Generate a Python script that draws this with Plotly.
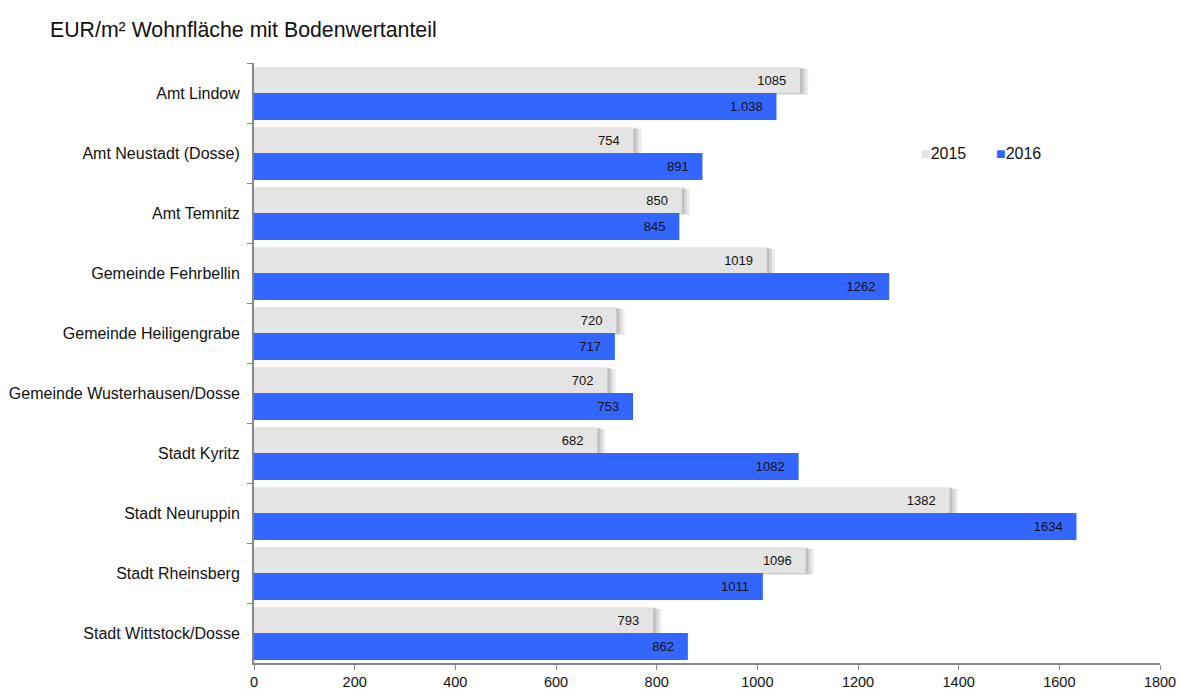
import plotly.graph_objects as go

categories = ["Amt Lindow", "Amt Neustadt (Dosse)", "Amt Temnitz", "Gemeinde Fehrbellin",
              "Gemeinde Heiligengrabe", "Gemeinde Wusterhausen/Dosse", "Stadt Kyritz",
              "Stadt Neuruppin", "Stadt Rheinsberg", "Stadt Wittstock/Dosse"]
v2015 = [1085, 754, 850, 1019, 720, 702, 682, 1382, 1096, 793]
v2016 = [1038, 891, 845, 1262, 717, 753, 1082, 1634, 1011, 862]
labels2015 = ["1085", "754", "850", "1019", "720", "702", "682", "1382", "1096", "793"]
labels2016 = ["1.038", "891", "845", "1262", "717", "753", "1082", "1634", "1011", "862"]
xticks = [0, 200, 400, 600, 800, 1000, 1200, 1400, 1600, 1800]
series_names = ["2015", "2016"]
series_colors = ["#e4e4e4", "#3366ff"]

pad = "\u00a0" * 3
font = "Liberation Sans, Arial, sans-serif"
OFF = 0  # page body margin removed via post_script

fig = go.Figure()
# soft shadow behind the 2015 bars (layers for a blurred look)
fig.add_trace(go.Bar(
    y=categories, x=[v + 16 for v in v2015], orientation="h",
    marker=dict(color="rgba(190,190,190,0.30)", line=dict(width=0)),
    width=0.43, offset=-0.40, showlegend=False, hoverinfo="skip"))
fig.add_trace(go.Bar(
    y=categories, x=[v + 10 for v in v2015], orientation="h",
    marker=dict(color="rgba(170,170,170,0.35)", line=dict(width=0)),
    width=0.43, offset=-0.41, showlegend=False, hoverinfo="skip"))
fig.add_trace(go.Bar(
    y=categories, x=[v + 5 for v in v2015], orientation="h",
    marker=dict(color="rgba(150,150,150,0.35)", line=dict(width=0)),
    width=0.43, offset=-0.42, showlegend=False, hoverinfo="skip"))
fig.add_trace(go.Bar(
    y=categories, x=v2015, orientation="h", name=series_names[0],
    marker=dict(color=series_colors[0], line=dict(width=0)),
    width=0.43, offset=-0.43, showlegend=False,
    text=[t + pad for t in labels2015], textposition="inside", insidetextanchor="end",
    textfont=dict(color="#111111", size=13, family=font), constraintext="none"))
fig.add_trace(go.Bar(
    y=categories, x=v2016, orientation="h", name=series_names[1],
    marker=dict(color=series_colors[1], line=dict(width=0)),
    width=0.45, offset=0.0, showlegend=False,
    text=[t + pad for t in labels2016], textposition="inside", insidetextanchor="end",
    textfont=dict(color="#111111", size=13, family=font), constraintext="none"))

L, T = 254 - OFF, 63 - OFF
plot_w = 1160 - 254
plot_h = 600
legend_annotations = []
for i, (nm, col) in enumerate(zip(series_names, series_colors)):
    legend_annotations.append(dict(
        text=f"<span style='color:{col}'>■</span>{nm}",
        xref="paper", yref="paper",
        x=(919 - 254) / plot_w + i * 75 / plot_w, y=1 - (154 - 63) / plot_h,
        xanchor="left", yanchor="middle", showarrow=False,
        font=dict(size=16, family=font, color="#111111")))

fig.update_layout(
    width=1180 - OFF, height=689 - OFF,
    barmode="overlay",
    showlegend=False,
    plot_bgcolor="white", paper_bgcolor="white",
    margin=dict(l=L, r=1180 - OFF - L - plot_w, t=T, b=689 - OFF - T - plot_h, autoexpand=False),
    font=dict(family=font, size=16, color="#111111"),
    uniformtext=dict(minsize=13, mode="show"),
    annotations=[dict(text="EUR/m² Wohnfläche mit Bodenwertanteil", xref="paper", yref="paper",
                      x=(48 - 254) / plot_w, y=1 + (63 - 30) / plot_h, xanchor="left", yanchor="middle",
                      showarrow=False, font=dict(size=21.3, family=font, color="#111111"))]
                + legend_annotations,
)
fig.update_xaxes(range=[0, 1800], tickvals=xticks, ticks="outside", ticklen=5,
                 tickcolor="#888888", showline=True, linecolor="#888888", linewidth=2,
                 showgrid=False, zeroline=False, tickfont=dict(size=14.5), automargin=False,
                 ticklabelstandoff=0)
fig.update_yaxes(categoryorder="array", categoryarray=categories, autorange="reversed",
                 ticks="outside", ticklen=5, tickson="boundaries", tickcolor="#888888",
                 showline=True, linecolor="#888888", linewidth=2, showgrid=False,
                 ticklabelstandoff=9, tickfont=dict(size=16), automargin=False)

fig.write_html("out.html", config={"displayModeBar": False},
               post_script="document.body.style.margin='0';document.body.style.overflow='hidden';")
